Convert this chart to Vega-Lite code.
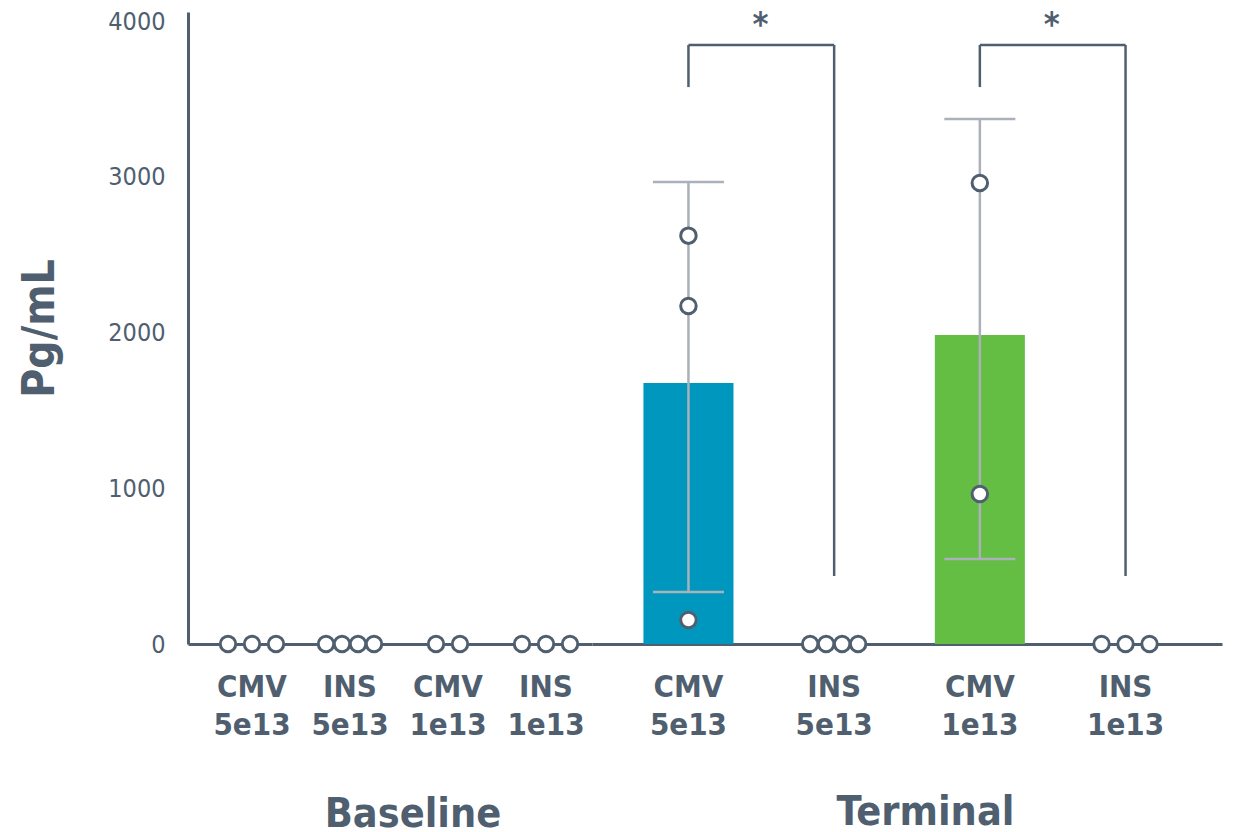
{
  "$schema": "https://vega.github.io/schema/vega-lite/v6.json",
  "background": "white",
  "padding": {"left": 18, "top": 9, "right": 5, "bottom": 0},
  "spacing": 0,
  "config": {
    "font": "DejaVu Sans Condensed, DejaVu Sans",
    "view": {"stroke": null},
    "axis": {
      "domainColor": "#505f70",
      "domainWidth": 3,
      "labelColor": "#505f70",
      "titleColor": "#505f70",
      "ticks": false,
      "grid": false
    }
  },
  "datasets": {
    "points": [
      {"phase": "Baseline", "group": "CMV 5e13", "value": 0},
      {"phase": "Baseline", "group": "CMV 5e13", "value": 0},
      {"phase": "Baseline", "group": "CMV 5e13", "value": 0},
      {"phase": "Baseline", "group": "INS 5e13", "value": 0},
      {"phase": "Baseline", "group": "INS 5e13", "value": 0},
      {"phase": "Baseline", "group": "INS 5e13", "value": 0},
      {"phase": "Baseline", "group": "INS 5e13", "value": 0},
      {"phase": "Baseline", "group": "CMV 1e13", "value": 0},
      {"phase": "Baseline", "group": "CMV 1e13", "value": 0},
      {"phase": "Baseline", "group": "INS 1e13", "value": 0},
      {"phase": "Baseline", "group": "INS 1e13", "value": 0},
      {"phase": "Baseline", "group": "INS 1e13", "value": 0},
      {"phase": "Terminal", "group": "CMV 5e13", "value": 2622},
      {"phase": "Terminal", "group": "CMV 5e13", "value": 2170},
      {"phase": "Terminal", "group": "CMV 5e13", "value": 154},
      {"phase": "Terminal", "group": "INS 5e13", "value": 0},
      {"phase": "Terminal", "group": "INS 5e13", "value": 0},
      {"phase": "Terminal", "group": "INS 5e13", "value": 0},
      {"phase": "Terminal", "group": "INS 5e13", "value": 0},
      {"phase": "Terminal", "group": "CMV 1e13", "value": 2960},
      {"phase": "Terminal", "group": "CMV 1e13", "value": 963},
      {"phase": "Terminal", "group": "INS 1e13", "value": 0},
      {"phase": "Terminal", "group": "INS 1e13", "value": 0},
      {"phase": "Terminal", "group": "INS 1e13", "value": 0}
    ],
    "summary": [
      {"phase": "Terminal", "group": "CMV 5e13", "mean": 1676, "lower": 334, "upper": 2966},
      {"phase": "Terminal", "group": "CMV 1e13", "mean": 1984, "lower": 546, "upper": 3371}
    ],
    "brackets": [
      {"from": "CMV 5e13", "to": "INS 5e13", "top": 3846, "leftEnd": 3576, "rightEnd": 437, "label": "*"},
      {"from": "CMV 1e13", "to": "INS 1e13", "top": 3846, "leftEnd": 3576, "rightEnd": 437, "label": "*"}
    ]
  },
  "resolve": {
    "scale": {"x": "independent", "y": "independent", "xOffset": "independent"},
    "axis": {"x": "independent", "y": "independent"}
  },
  "hconcat": [
    {
      "width": 404,
      "height": 632,
      "layer": [
        {
          "data": {"name": "points"},
          "transform": [
            {"filter": "datum.phase === 'Baseline'"},
            {"window": [{"op": "row_number", "as": "k"}], "groupby": ["group", "value"]},
            {"joinaggregate": [{"op": "count", "as": "n"}], "groupby": ["group", "value"]},
            {"calculate": "(datum.k - (datum.n + 1) / 2) * (datum.n >= 4 ? 16 : 24)", "as": "dodge"}
          ],
          "mark": {"type": "point", "shape": "circle", "filled": true, "fill": "white", "stroke": "#505f70", "strokeWidth": 3, "size": 240, "opacity": 1},
          "encoding": {
            "x": {
              "field": "group", "type": "nominal",
              "scale": {"domain": ["CMV 5e13", "INS 5e13", "CMV 1e13", "INS 1e13"], "paddingInner": 0.4, "paddingOuter": 0.2612, "align": 0.676},
              "axis": {
                "title": "Baseline", "titleFontSize": 41, "titleFontWeight": "bold",
                "titleX": 224.5, "titleY": 182, "titleBaseline": "alphabetic",
                "labelAngle": 0, "labelFontSize": 31, "labelFontWeight": "bold",
                "labelLineHeight": 38, "labelPadding": 28,
                "labelExpr": "split(datum.label, ' ')"
              }
            },
            "xOffset": {"field": "dodge", "type": "quantitative", "scale": {"domain": [-50, 50], "range": [-20.6, 79.4]}},
            "y": {
              "field": "value", "type": "quantitative",
              "scale": {"domain": [0, 4058], "nice": false},
              "axis": {
                "title": "Pg/mL", "titleFontSize": 44, "titleFontWeight": "bold",
                "titleX": -135, "titleBaseline": "alphabetic",
                "values": [0, 1000, 2000, 3000, 4000], "format": "d",
                "labelFontSize": 25, "labelPadding": 23
              }
            }
          }
        }
      ]
    },
    {
      "width": 630,
      "height": 632,
      "resolve": {"scale": {"xOffset": "independent"}},
      "layer": [
        {
          "data": {"name": "summary"},
          "mark": {"type": "bar", "width": {"band": 1}},
          "encoding": {
            "x": {
              "field": "group", "type": "nominal",
              "scale": {"domain": ["CMV 5e13", "INS 5e13", "CMV 1e13", "INS 1e13"], "paddingInner": 0.382, "paddingOuter": 0.353},
              "axis": {
                "title": "Terminal", "titleFontSize": 41, "titleFontWeight": "bold",
                "titleX": 333, "titleY": 180, "titleBaseline": "alphabetic",
                "labelAngle": 0, "labelFontSize": 31, "labelFontWeight": "bold",
                "labelLineHeight": 38, "labelPadding": 28,
                "labelExpr": "split(datum.label, ' ')"
              }
            },
            "y": {"field": "mean", "type": "quantitative", "scale": {"domain": [0, 4058], "nice": false}, "axis": null},
            "color": {"field": "group", "type": "nominal", "scale": {"domain": ["CMV 5e13", "CMV 1e13"], "range": ["#0097be", "#63be43"]}, "legend": null}
          }
        },
        {
          "data": {"name": "summary"},
          "mark": {"type": "rule", "color": "#aab1ba", "strokeWidth": 2.5},
          "encoding": {
            "x": {"field": "group", "type": "nominal"},
            "y": {"field": "lower", "type": "quantitative", "axis": null},
            "y2": {"field": "upper"}
          }
        },
        {
          "data": {"name": "summary"},
          "transform": [{"fold": ["lower", "upper"], "as": ["bound", "v"]}],
          "mark": {"type": "tick", "color": "#aab1ba", "size": 71, "thickness": 2.5, "opacity": 1},
          "encoding": {
            "x": {"field": "group", "type": "nominal"},
            "y": {"field": "v", "type": "quantitative", "axis": null}
          }
        },
        {
          "data": {"name": "brackets"},
          "mark": {"type": "rule", "color": "#505f70", "strokeWidth": 2.5},
          "encoding": {
            "x": {"field": "from", "type": "nominal"},
            "x2": {"field": "to"},
            "y": {"field": "top", "type": "quantitative", "axis": null}
          }
        },
        {
          "data": {"name": "brackets"},
          "mark": {"type": "rule", "color": "#505f70", "strokeWidth": 2.5},
          "encoding": {
            "x": {"field": "from", "type": "nominal"},
            "y": {"field": "top", "type": "quantitative", "axis": null},
            "y2": {"field": "leftEnd"}
          }
        },
        {
          "data": {"name": "brackets"},
          "mark": {"type": "rule", "color": "#505f70", "strokeWidth": 2.5},
          "encoding": {
            "x": {"field": "to", "type": "nominal"},
            "y": {"field": "top", "type": "quantitative", "axis": null},
            "y2": {"field": "rightEnd"}
          }
        },
        {
          "data": {"name": "brackets"},
          "mark": {"type": "text", "color": "#505f70", "fontSize": 34, "fontWeight": "bold", "baseline": "alphabetic", "align": "center", "dx": 72, "dy": -9},
          "encoding": {
            "x": {"field": "from", "type": "nominal"},
            "y": {"field": "top", "type": "quantitative", "axis": null},
            "text": {"field": "label"}
          }
        },
        {
          "data": {"name": "points"},
          "transform": [
            {"filter": "datum.phase === 'Terminal'"},
            {"window": [{"op": "row_number", "as": "k"}], "groupby": ["group", "value"]},
            {"joinaggregate": [{"op": "count", "as": "n"}], "groupby": ["group", "value"]},
            {"calculate": "(datum.k - (datum.n + 1) / 2) * (datum.n >= 4 ? 16 : 24)", "as": "dodge"}
          ],
          "mark": {"type": "point", "shape": "circle", "filled": true, "fill": "white", "stroke": "#505f70", "strokeWidth": 3, "size": 240, "opacity": 1},
          "encoding": {
            "x": {"field": "group", "type": "nominal"},
            "xOffset": {"field": "dodge", "type": "quantitative", "scale": {"domain": [-50, 50], "range": [-5, 95]}},
            "y": {"field": "value", "type": "quantitative", "axis": null}
          }
        }
      ]
    }
  ]
}
